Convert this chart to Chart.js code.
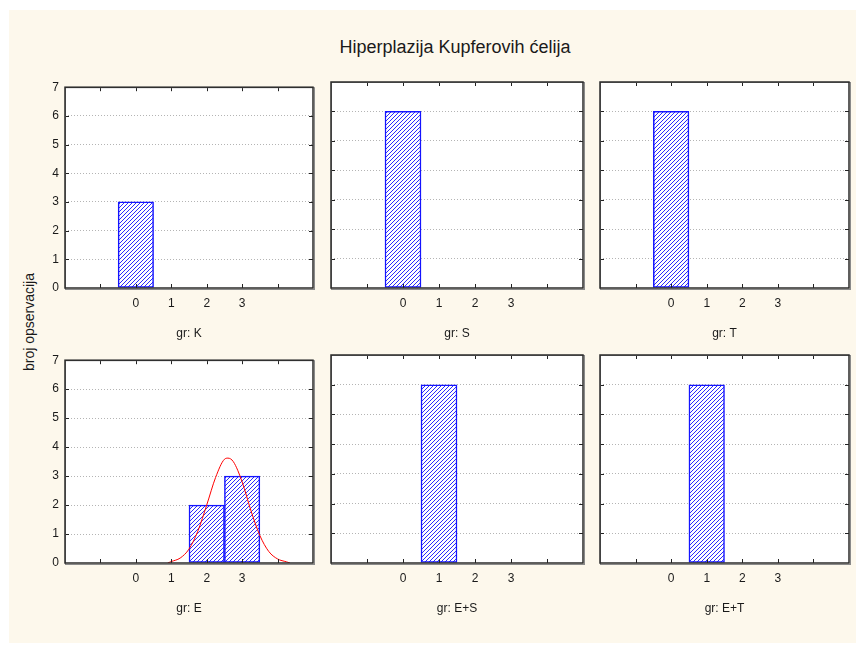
<!DOCTYPE html>
<html>
<head>
<meta charset="utf-8">
<script src="https://cdn.jsdelivr.net/npm/chart.js@4"></script>
<style>
  body { margin: 0; background: #fff; }
  #page { position: relative; width: 856px; height: 646px; overflow: hidden; background: #fff;
          font-family: "Liberation Sans", Arial, sans-serif; }
  #bg { position: absolute; left: 9px; top: 10px; width: 847px; height: 633px; background: #fdf8ec; }
  #title { position: absolute; left: 0; width: 910px; top: 37px; text-align: center;
           font-family: "Liberation Sans Narrow", "Liberation Sans", Arial, sans-serif;
           font-size: 18px; color: #1a1a1a; }
  #ylabel { position: absolute; left: 29px; top: 322px; transform: translate(-50%, -50%) rotate(-90deg);
            white-space: nowrap; font-size: 14px; color: #1a1a1a; }
  canvas { position: absolute; }
</style>
</head>
<body>
<div id="page">
  <div id="bg"></div>
  <div id="title">Hiperplazija Kupferovih ćelija</div>
  <div id="ylabel">broj opservacija</div>
</div>
<script>
// bins on the x axis and labels shown under them
const bins = [0, 1, 2, 3];
const tickLabels = ['0', '1', '2', '3'];
const groups = ['K', 'S', 'T', 'E', 'E+S', 'E+T'];

// number of observations per bin, one array per group
const countsK = [3, 0, 0, 0];
const countsS = [6, 0, 0, 0];
const countsT = [6, 0, 0, 0];
const countsE = [0, 0, 2, 3];
const countsES = [0, 6, 0, 0];
const countsET = [0, 6, 0, 0];

// fitted normal curve in group E
const curveX = [0.9, 1.0, 1.25, 1.5, 1.75, 2.0, 2.25, 2.5, 2.6, 2.75, 3.0, 3.25, 3.5, 3.75, 4.0, 4.25, 4.35];
const curveY = [0.0, 0.05, 0.17, 0.48, 1.1, 2.0, 2.95, 3.58, 3.62, 3.5, 2.8, 1.8, 0.95, 0.4, 0.14, 0.04, 0.0];

// plot rectangles (left, top, width, height) for the 2x3 grid
const cols = [65, 331, 600];
const colW = [248, 252, 249];
const rows = [82, 355];
const rowH = [206, 208];
const padL = 40, padT = 8, padR = 8, padB = 60;

const panels = [
    { group: groups[0], counts: countsK, col: 0, row: 0 },
    { group: groups[1], counts: countsS, col: 1, row: 0 },
    { group: groups[2], counts: countsT, col: 2, row: 0 },
    { group: groups[3], counts: countsE, col: 0, row: 1, curve: true },
    { group: groups[4], counts: countsES, col: 1, row: 1 },
    { group: groups[5], counts: countsET, col: 2, row: 1 }
];

// diagonal blue hatch; shifted so every panel has the same phase on the page
function makeHatch(ctx, left, top) {
    const c = document.createElement('canvas');
    c.width = 4; c.height = 4;
    const g = c.getContext('2d');
    g.fillStyle = '#ffffff';
    g.fillRect(0, 0, 4, 4);
    g.strokeStyle = '#2a2aff';
    g.lineWidth = 1;
    g.beginPath();
    g.moveTo(0, 4); g.lineTo(4, 0);
    g.moveTo(-1, 1); g.lineTo(1, -1);
    g.moveTo(3, 5); g.lineTo(5, 3);
    g.stroke();
    const pat = ctx.createPattern(c, 'repeat');
    const dx = ((3 - (left + top)) % 4 + 4) % 4;
    pat.setTransform(new DOMMatrix([1, 0, 0, 1, dx, 0]));
    return pat;
}

// white plot background, inward ticks on all four sides, dark frame
const framePlugin = {
    id: 'frame',
    beforeDraw(chart) {
        const a = chart.chartArea, ctx = chart.ctx;
        ctx.save();
        ctx.fillStyle = '#fff';
        ctx.fillRect(a.left, a.top, a.right - a.left, a.bottom - a.top);
        ctx.restore();
    },
    afterDraw(chart) {
        const a = chart.chartArea, ctx = chart.ctx;
        const xs = chart.scales.x, ys = chart.scales.y;
        ctx.save();
        ctx.strokeStyle = '#222';
        ctx.lineWidth = 1;
        ctx.beginPath();
        xs.ticks.filter(t => t.value > xs.min && t.value < xs.max).forEach(t => {
            const px = Math.round(xs.getPixelForValue(t.value)) + 0.5;
            ctx.moveTo(px, a.top); ctx.lineTo(px, a.top + 4);
            ctx.moveTo(px, a.bottom); ctx.lineTo(px, a.bottom - 4);
        });
        ys.ticks.filter(t => t.value > ys.min && t.value < ys.max).forEach(t => {
            const py = Math.round(ys.getPixelForValue(t.value)) + 0.5;
            ctx.moveTo(a.left, py); ctx.lineTo(a.left + 4, py);
            ctx.moveTo(a.right, py); ctx.lineTo(a.right - 4, py);
        });
        ctx.stroke();
        ctx.strokeStyle = '#8a8a8a';
        ctx.lineWidth = 1;
        ctx.strokeRect(a.left + 0.5, a.top + 0.5, a.right - a.left + 1, a.bottom - a.top + 1);
        ctx.strokeStyle = '#2a2a2a';
        ctx.lineWidth = 1.5;
        ctx.strokeRect(a.left, a.top, a.right - a.left, a.bottom - a.top);
        ctx.restore();
    }
};

const page = document.getElementById('page');

panels.forEach(p => {
    const w = colW[p.col], h = rowH[p.row];
    const left = cols[p.col] - padL, top = rows[p.row] - padT;
    const canvas = document.createElement('canvas');
    canvas.width = w + padL + padR;
    canvas.height = h + padT + padB;
    canvas.style.left = left + 'px';
    canvas.style.top = top + 'px';
    page.appendChild(canvas);
    const hatch = makeHatch(canvas.getContext('2d'), left, top);

    const datasets = [{
        type: 'bar',
        data: bins.map((b, i) => ({ x: b, y: p.counts[i] || null })),
        backgroundColor: hatch,
        borderColor: '#1414ff',
        borderWidth: 1.5,
        borderSkipped: false,
        barPercentage: 1,
        categoryPercentage: 1,
        order: 1
    }];
    if (p.curve) {
        datasets.push({
            type: 'line',
            data: curveX.map((x, i) => ({ x: x, y: curveY[i] })),
            borderColor: '#ff0000',
            borderWidth: 1,
            pointRadius: 0,
            cubicInterpolationMode: 'monotone',
            order: 0
        });
    }

    new Chart(canvas, {
        type: 'bar',
        data: { datasets: datasets },
        options: {
            responsive: false,
            animation: false,
            layout: { padding: { top: padT, right: padR, left: 0, bottom: 0 } },
            plugins: { legend: { display: false }, tooltip: { enabled: false } },
            scales: {
                x: {
                    type: 'linear',
                    min: -2,
                    max: 5,
                    offset: false,
                    grid: { display: false, drawTicks: false },
                    border: { display: false },
                    ticks: {
                        stepSize: 1,
                        autoSkip: false,
                        maxRotation: 0,
                        padding: 8,
                        color: '#1a1a1a',
                        font: { family: 'Liberation Sans', size: 12 },
                        callback: v => tickLabels.includes(String(v)) ? String(v) : ''
                    },
                    title: {
                        display: true,
                        text: 'gr: ' + p.group,
                        color: '#1a1a1a',
                        font: { family: 'Liberation Sans', size: 12 },
                        padding: { top: 0, bottom: 7 }
                    },
                    afterFit: s => { s.height = padB; }
                },
                y: {
                    min: 0,
                    max: 7,
                    grid: {
                        drawTicks: false,
                        lineWidth: 1,
                        color: c => (c.tick && c.tick.value > 0 && c.tick.value < 7) ? '#b4b4b4' : 'rgba(0,0,0,0)'
                    },
                    border: { display: false, dash: [1, 2] },
                    ticks: {
                        stepSize: 1,
                        display: p.col === 0,
                        padding: 6,
                        color: '#1a1a1a',
                        font: { family: 'Liberation Sans', size: 12 }
                    },
                    afterFit: s => { s.width = padL; }
                }
            }
        },
        plugins: [framePlugin]
    });
});
</script>
</body>
</html>
